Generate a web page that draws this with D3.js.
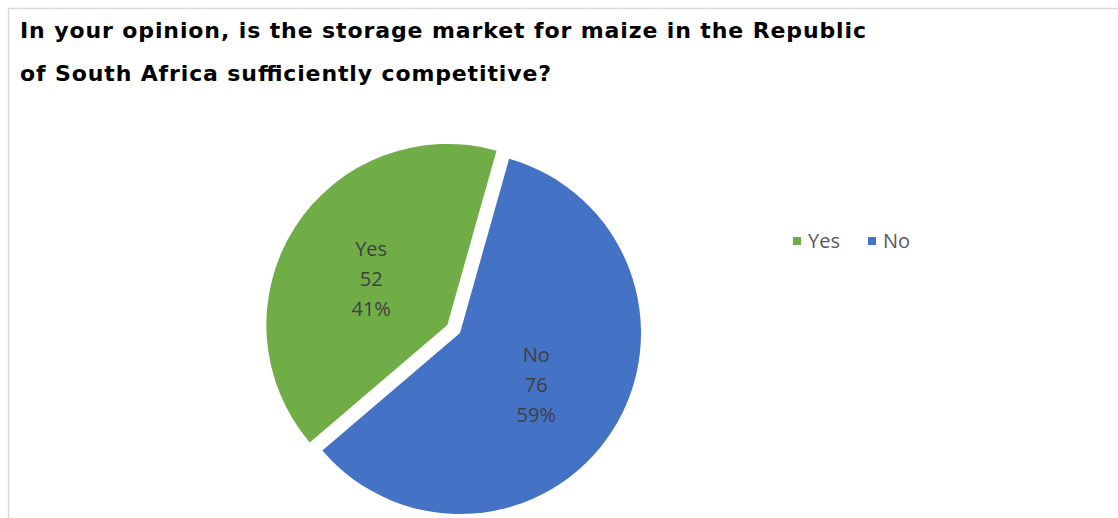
<!DOCTYPE html>
<html>
<head>
<meta charset="utf-8">
<script src="https://cdn.jsdelivr.net/npm/d3@7"></script>
<style>
  body { margin: 0; background: #fff; }
</style>
</head>
<body>
<div id="chart"></div>
<script>
const categories = ['Yes', 'No']
const counts = [52, 76]
const percentLabels = ['41%', '59%']
const colors = ['#70ad47', '#4472c4']
const titleLines = [
  'In your opinion, is the storage market for maize in the Republic',
  'of South Africa sufficiently competitive?'
]
const titleWidths = [846, 531]

const width = 1118
const height = 518
const radius = 181
const center = { x: 460, y: 333 }
const explode = 15

const svg = d3
  .select('#chart')
  .append('svg')
  .attr('width', width)
  .attr('height', height)

// frame (runs off the right and bottom edge in the original)
svg
  .append('path')
  .attr('d', 'M8.5,' + height + ' V8.5 H' + width)
  .attr('fill', 'none')
  .attr('stroke', '#d9d9d9')
  .attr('stroke-width', 1.5)

svg
  .selectAll('.title')
  .data(titleLines)
  .enter()
  .append('text')
  .attr('class', 'title')
  .attr('x', 20)
  .attr('y', (d, i) => 38 + i * 43)
  .attr('textLength', (d, i) => titleWidths[i])
  .attr('lengthAdjust', 'spacing')
  .text(d => d)
  .style('font-family', 'DejaVu Sans, Verdana, sans-serif')
  .style('font-size', '22px')
  .style('font-weight', 'bold')
  .attr('fill', '#000')

const startAngle = (229.5 * Math.PI) / 180
const pie = d3
  .pie()
  .sort(null)
  .startAngle(startAngle)
  .endAngle(startAngle + 2 * Math.PI)

const arcs = pie(counts)

const arc = d3.arc().innerRadius(0).outerRadius(radius)

const g = svg
  .append('g')
  .attr('transform', 'translate(' + center.x + ',' + center.y + ')')

const slices = g
  .selectAll('.slice')
  .data(arcs)
  .enter()
  .append('g')
  .attr('class', 'slice')
  .attr('transform', function(d, i) {
    if (i !== 0) return null
    const mid = (d.startAngle + d.endAngle) / 2
    return 'translate(' + Math.sin(mid) * explode + ',' + -Math.cos(mid) * explode + ')'
  })

slices
  .append('path')
  .attr('d', arc)
  .attr('fill', (d, i) => colors[i])

slices
  .append('text')
  .attr('transform', d => 'translate(' + arc.centroid(d) + ')')
  .attr('text-anchor', 'middle')
  .style('font-family', 'Open Sans, sans-serif')
  .style('font-size', '20px')
  .attr('fill', '#404040')
  .selectAll('tspan')
  .data((d, i) => [categories[i], counts[i], percentLabels[i]])
  .enter()
  .append('tspan')
  .attr('x', 0)
  .attr('y', (d, i) => (i - 1) * 30 + 10)
  .text(d => d)

// legend
const legend = svg
  .selectAll('.legend')
  .data(categories)
  .enter()
  .append('g')
  .attr('class', 'legend')
  .attr('transform', (d, i) => 'translate(' + (793 + i * 75) + ',237)')

legend
  .append('rect')
  .attr('width', 8)
  .attr('height', 8)
  .attr('fill', (d, i) => colors[i])

legend
  .append('text')
  .attr('x', 15)
  .attr('y', 10.5)
  .text(d => d)
  .style('font-family', 'Open Sans, sans-serif')
  .style('font-size', '20px')
  .attr('fill', '#595959')
</script>
</body>
</html>
